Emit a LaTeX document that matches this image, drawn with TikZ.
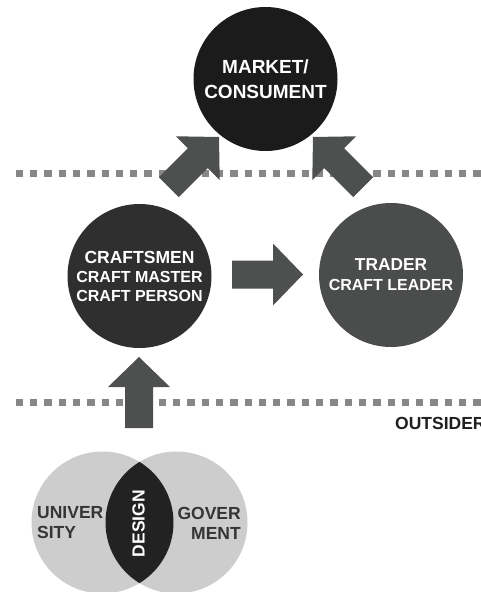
\documentclass[tikz,border=0pt]{standalone}
\usepackage{fontspec}
\setmainfont{Liberation Sans}
\definecolor{mkt}{HTML}{1B1B1B}
\definecolor{crf}{HTML}{2F2F2F}
\definecolor{trd}{HTML}{4B4C4C}
\definecolor{arr}{HTML}{4E4F4F}
\definecolor{dots}{HTML}{878787}
\definecolor{venn}{HTML}{CDCDCD}
\definecolor{lens}{HTML}{222222}
\definecolor{vtxt}{HTML}{353535}
\tikzset{
  bigcircle/.style={circle, minimum size=144pt, inner sep=0pt, text=white, align=center, font=\bfseries},
  dotline/.style={draw=dots, line width=7.3pt, dash pattern=on 7.3pt off 7pt},
  barrow/.pic={\fill[arr] (0,0) -- (-30,-31) -- (-30,-14) -- (-71,-14) -- (-71,14) -- (-30,14) -- (-30,31) -- cycle;},
  venncircle/.style={circle, minimum size=142pt, inner sep=0pt, fill=venn},
  venntext/.style={text=vtxt, font=\bfseries\fontsize{17.5}{20}\selectfont, inner sep=0pt}
}
\begin{document}
\begin{tikzpicture}[x=1pt, y=-1pt]
\useasboundingbox (0,0) rectangle (481,592);
\clip (0,0) rectangle (481,592);
% dotted lines
\coordinate (d1s) at (15.7,173.5);
\coordinate (d1e) at (490,173.5);
\coordinate (d2s) at (15.7,402.5);
\coordinate (d2e) at (490,402.5);
\draw[dotline] (d1s) -- (d1e);
\draw[dotline] (d2s) -- (d2e);
% circles
\node[bigcircle, fill=mkt, font=\bfseries\fontsize{19}{25}\selectfont] (market) at (265.5,79) {\raisebox{-2pt}{MARKET/}\\\raisebox{-2pt}{CONSUMENT}};
\node[bigcircle, fill=crf, font=\bfseries\fontsize{16}{19}\selectfont] (craft) at (139.5,276) {{\fontsize{17.5}{19}\selectfont CRAFTSMEN}\\CRAFT MASTER\\CRAFT PERSON};
\node[bigcircle, fill=trd, font=\bfseries\fontsize{16}{20}\selectfont] (trader) at (391,275) {{\fontsize{17.3}{20}\selectfont TRADER}\\CRAFT LEADER};
% block arrows
\pic (a1) at (219,137) [rotate=45] {barrow};
\pic (a2) at (313,137) [rotate=135] {barrow};
\pic (a3) at (303,274.5) {barrow};
\pic (a4) at (139,357) [rotate=90] {barrow};
% outsider label
\node[anchor=west, inner sep=0pt, text=black!88, font=\bfseries\fontsize{17.5}{20}\selectfont] (outsider) at (395,423) {OUTSIDER};
% venn
\node[venncircle] (uni) at (102.5,522.5) {};
\node[venncircle] (gov) at (176.5,522.5) {};
\begin{scope}
\clip (uni.center) circle (71pt);
\fill[lens] (gov.center) circle (71pt);
\end{scope}
\node[venntext, anchor=west, align=left] (unitxt) at (37,523) {UNIVER\\SITY};
\node[venntext, anchor=east, align=right] (govtxt) at (241,523) {GOVER\\MENT};
\node[venntext, text=white, rotate=90] (design) at (138.5,523.5) {DESIGN};
\end{tikzpicture}
\end{document}
